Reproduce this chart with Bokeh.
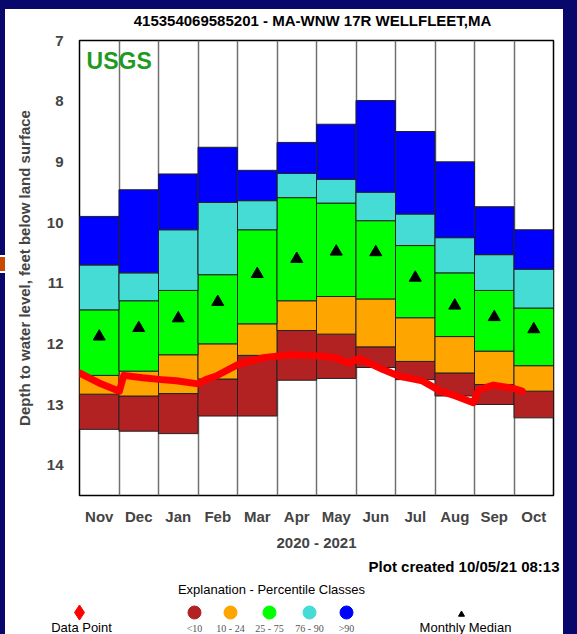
from bokeh.plotting import figure
from bokeh.models import Range1d, FixedTicker
from bokeh.layouts import column
from bokeh.embed import file_html
from bokeh.resources import INLINE
from bokeh.core.properties import value

# ---------------- data ----------------
months = ["Nov", "Dec", "Jan", "Feb", "Mar", "Apr", "May", "Jun", "Jul", "Aug", "Sep", "Oct"]
record_high = [9.90, 9.46, 9.20, 8.76, 9.14, 8.68, 8.38, 7.99, 8.50, 9.00, 9.74, 10.12]
p90 = [10.70, 10.83, 10.12, 9.67, 9.64, 9.19, 9.29, 9.50, 9.86, 10.25, 10.53, 10.77]
p75 = [11.44, 11.29, 11.12, 10.86, 10.12, 9.59, 9.68, 9.97, 10.38, 10.83, 11.12, 11.41]
p25 = [12.52, 12.45, 12.18, 12.00, 11.67, 11.29, 11.22, 11.26, 11.57, 11.88, 12.12, 12.36]
p10 = [12.83, 12.86, 12.82, 12.58, 12.19, 11.78, 11.84, 12.05, 12.29, 12.48, 12.67, 12.78]
record_low = [13.41, 13.44, 13.48, 13.19, 13.19, 12.60, 12.57, 12.39, 12.59, 12.86, 13.00, 13.22]
median = [11.88, 11.74, 11.58, 11.31, 10.85, 10.60, 10.48, 10.49, 10.91, 11.37, 11.56, 11.76]

# data points: position in months since Nov 1 2020, depth (ft)
dp_month = [0.0, 0.48, 1.01, 1.12, 1.60, 2.07, 2.45, 3.0, 3.20, 3.46, 4.02, 4.65, 5.32,
            6.13, 6.49, 6.82, 7.07, 7.67, 8.08, 8.68, 9.14, 9.52, 9.97, 10.10, 10.48,
            10.96, 11.21]
dp_depth = [12.48, 12.64, 12.78, 12.52, 12.56, 12.59, 12.61, 12.66, 12.59, 12.53, 12.34,
            12.23, 12.18, 12.20, 12.23, 12.32, 12.24, 12.42, 12.53, 12.61, 12.78, 12.86,
            12.97, 12.76, 12.68, 12.73, 12.78]

y_ticks = [7, 8, 9, 10, 11, 12, 13, 14]
class_labels = ["<10", "10 - 24", "25 - 75", "76 - 90", ">90"]
class_colors = ["#B22222", "#FFA500", "#00FF00", "#45DCD5", "#0000FF"]
title_text = "415354069585201 - MA-WNW 17R WELLFLEET,MA"

FONT = "Liberation Sans"
W = 558

# ---------------- main chart ----------------
p = figure(width=W, height=546, x_range=Range1d(0, 12), y_range=Range1d(14.5, 7),
           output_backend="svg", toolbar_location=None,
           min_border_left=74, min_border_right=10, min_border_top=31, min_border_bottom=60)
p.background_fill_color = "white"
p.border_fill_color = "white"
p.outline_line_color = "black"
p.outline_line_width = 1.5

xc = [i + 0.5 for i in range(len(months))]
bands = [(p10, record_low), (p25, p10), (p75, p25), (p90, p75), (record_high, p90)]
for (top, bottom), col in zip(bands, class_colors):
    p.vbar(x=xc, width=1.0, top=top, bottom=bottom, fill_color=col,
           line_color="#222222", line_width=1)

p.scatter(x=xc, y=median, marker="triangle", size=12, color="black")
p.line(x=dp_month, y=dp_depth, color="#FF0000", line_width=7, line_join="round", line_cap="round")

p.text(x=[0.18], y=[7.33], text=["USGS"], text_font=value(FONT), text_font_style="bold",
       text_font_size="23px", text_color="#1F9A1F", text_baseline="middle")

p.yaxis.ticker = FixedTicker(ticks=y_ticks)
p.yaxis.axis_label = "Depth to water level, feet below land surface"
p.yaxis.axis_label_text_font = FONT
p.yaxis.axis_label_text_font_style = "bold"
p.yaxis.axis_label_text_font_size = "15px"
p.yaxis.axis_label_standoff = 11
p.yaxis.major_label_text_font = FONT
p.yaxis.major_label_text_font_style = "bold"
p.yaxis.major_label_text_font_size = "15px"
p.yaxis.major_label_standoff = 16

p.xaxis.ticker = FixedTicker(ticks=xc)
p.xaxis.major_label_overrides = {x: m for x, m in zip(xc, months)}
p.xaxis.axis_label = "2020 - 2021"
p.xaxis.axis_label_text_font = FONT
p.xaxis.axis_label_text_font_style = "bold"
p.xaxis.axis_label_text_font_size = "15px"
p.xaxis.axis_label_standoff = 6
p.xaxis.major_label_text_font = FONT
p.xaxis.major_label_text_font_style = "bold"
p.xaxis.major_label_text_font_size = "15px"
p.xaxis.major_label_standoff = 12

for ax in (p.xaxis, p.yaxis):
    ax.major_tick_out = 0
    ax.major_tick_in = 0
    ax.minor_tick_out = 0
    ax.minor_tick_in = 0
    ax.axis_line_color = None

p.ygrid.visible = False
p.xgrid.ticker = FixedTicker(ticks=list(range(1, 12)))
p.xgrid.grid_line_color = "#707070"
p.xgrid.grid_line_width = 1.5

root = column(p, styles={
    "background": ("linear-gradient(#c84a00, #c84a00) 0px 257px / 5px 14px no-repeat, "
                   "linear-gradient(#ffffff, #ffffff) 0px 255px / 5px 18px no-repeat, "
                   "linear-gradient(#ffffff, #ffffff) 5px 9px / 558px 625px no-repeat, #08086c"),
    "padding": "9px 14px 79px 5px",
    "position": "fixed",
    "left": "0px",
    "top": "0px",
    "margin": "0px",
})


def strip(top, height):
    """A borderless strip whose data coordinates are page pixels."""
    f = figure(width=W, height=height, x_range=Range1d(5, 563),
               y_range=Range1d(top + height, top),
               output_backend="svg", toolbar_location=None,
               x_axis_location=None, y_axis_location=None,
               min_border_left=0, min_border_right=0, min_border_top=0, min_border_bottom=0,
               styles={"position": "fixed", "left": "5px", "top": f"{top}px", "margin": "0px"})
    f.grid.visible = False
    f.outline_line_color = None
    f.background_fill_color = "white"
    f.border_fill_color = "white"
    return f


def txt(f, x, y, t, align="center", size="13px", style="normal", color="black", font=FONT):
    f.text(x=[x], y=[y], text=[t], text_align=align, text_baseline="middle",
           text_font=value(font), text_font_size=size, text_font_style=style,
           text_color=color)


# ---------------- title strip ----------------
tt = strip(9, 24)
txt(tt, 312, 20, title_text, size="15px", style="bold")

# ---------------- explanation strip ----------------
lg = strip(555, 79)
txt(lg, 559, 566, "Plot created 10/05/21 08:13", align="right", size="15px", style="bold")
txt(lg, 271, 589, "Explanation - Percentile Classes", size="13px")
lg.scatter(x=[79], y=[612], marker="diamond", size=15, color="#FF0000")
txt(lg, 81, 627, "Data Point", size="13px")
class_x = [194, 230, 269, 309, 346]
lg.scatter(x=class_x, y=[612] * 5, marker="circle", size=13, color=class_colors)
for cx, cl in zip(class_x, class_labels):
    txt(lg, cx, 628, cl, size="10px", color="#555555", font="Liberation Serif")
lg.scatter(x=[461], y=[614], marker="triangle", size=6, color="black")
txt(lg, 465, 627, "Monthly Median", size="13px")

open("out.html", "w").write(file_html([root, tt, lg], INLINE))
